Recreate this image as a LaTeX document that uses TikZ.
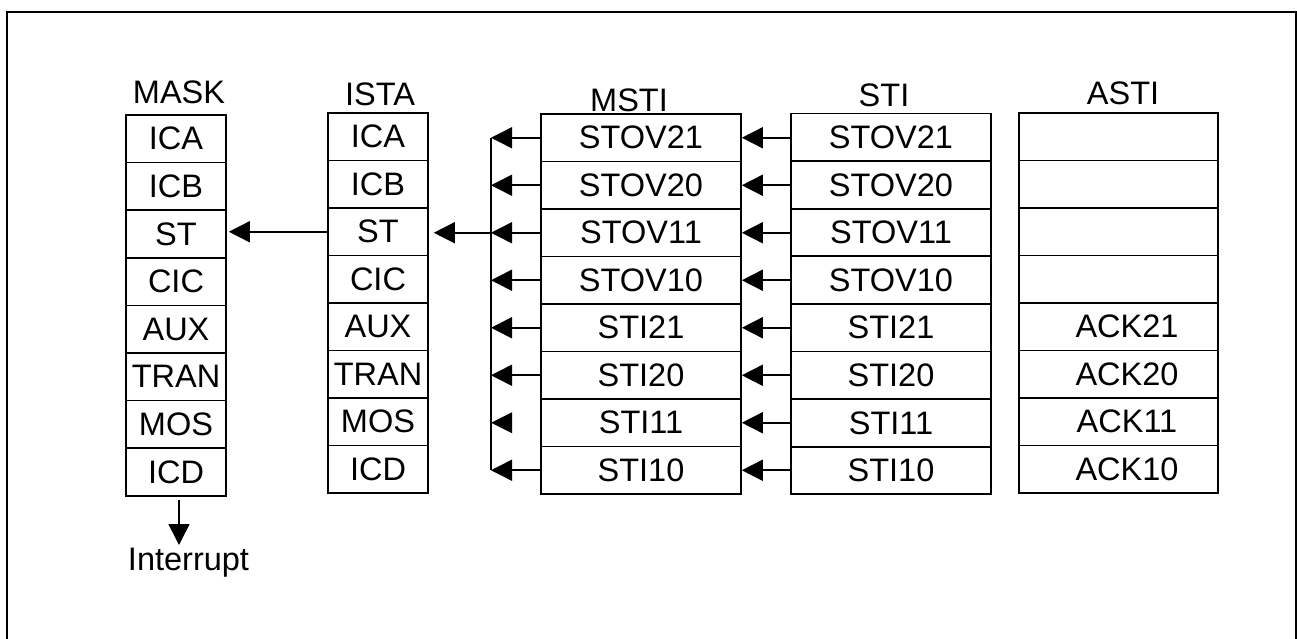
\documentclass[tikz,border=0pt]{standalone}
\usepackage{fontspec}
\setmainfont{Liberation Sans}
\usetikzlibrary{arrows.meta}
\begin{document}
\begin{tikzpicture}[x=1pt,y=-1pt,
  txt/.style={font=\fontsize{32.5}{39}\selectfont, inner sep=0pt},
  cell/.style={txt, draw, line width=1.6pt, minimum width=#1, minimum height=47.5pt},
  hdr/.style={txt, anchor=base},
  wire/.style={line width=1.6pt},
  arr/.style={line width=1.6pt, -{Triangle[length=21pt,width=21pt]}}]
\useasboundingbox (0,0) rectangle (1297,639);
% outer frame (open at the bottom)
\draw[line width=2pt] (7,639) -- (7,12) -- (1296,12) -- (1296,639);
% headers
\node[hdr] (hmask) at (179,104) {MASK};
\node[hdr] (hista) at (380,106) {ISTA};
\node[hdr] (hmsti) at (629,112) {MSTI};
\node[hdr] (hsti)  at (884,107) {STI};
\node[hdr] (hasti) at (1123,105) {ASTI};
% MASK column
\foreach \t [count=\i] in {ICA,ICB,ST,CIC,AUX,TRAN,MOS,ICD}
  \node[cell=100pt, minimum height=47.6pt] (mask\i) at (176,{115+47.6*(\i-0.5)}) {\t};
% ISTA column
\foreach \t [count=\i] in {ICA,ICB,ST,CIC,AUX,TRAN,MOS,ICD}
  \node[cell=100pt] (ista\i) at (378,{113+47.5*(\i-0.5)}) {\t};
% MSTI column
\foreach \t [count=\i] in {STOV21,STOV20,STOV11,STOV10,STI21,STI20,STI11,STI10}
  \node[cell=200pt] (msti\i) at (641,{114+47.5*(\i-0.5)}) {\t};
% STI column
\foreach \t [count=\i] in {STOV21,STOV20,STOV11,STOV10,STI21,STI20,STI11,STI10}
  \node[cell=200pt] (sti\i) at (891,{113.5+47.6*(\i-0.5)}) {\t};
% ASTI column
\foreach \t [count=\i] in {{},{},{},{},ACK21,ACK20,ACK11,ACK10}
  \node[cell=199pt] (asti\i) at (1118.5,{113+47.5*(\i-0.5)}) {\hspace*{17pt}\t};
% STI -> MSTI arrows
\foreach \i in {1,...,8}
  \draw[arr] (msti\i.east -| sti\i.west) -- (msti\i.east);
% MSTI -> bus arrows
\coordinate (bus) at (491,0);
\draw[wire] (msti1.west -| bus) -- (msti8.west -| bus);
\foreach \i in {1,2,3,4,5,6,8}
  \draw[arr] (msti\i.west) -- (msti\i.west -| bus);
% row 7: arrowhead only, no shaft
\coordinate (b7) at (msti7.west -| bus);
\fill (b7) -- ++(21,-10.5) -- ++(0,21) -- cycle;
% bus -> ISTA.ST
\draw[arr, shorten >=5pt] (msti3.west -| bus) -- (msti3.west -| ista3.east);
% ISTA.ST -> MASK.ST
\draw[arr, shorten >=2pt] (ista3.west) -- (ista3.west -| mask3.east);
% Interrupt
\node[txt, anchor=base] (intr) at (188.5,570) {Interrupt};
\coordinate (itip) at (179,545);
\draw[arr, shorten <=3pt] (itip |- mask8.south) -- (itip);
\end{tikzpicture}
\end{document}
